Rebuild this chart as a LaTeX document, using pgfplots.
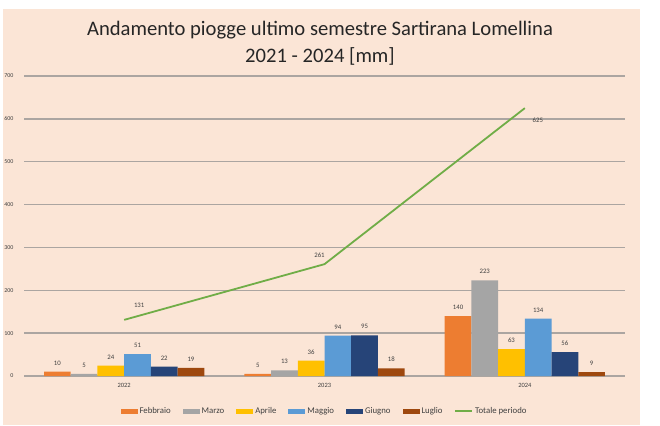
\documentclass[border=0pt]{standalone}
\usepackage{fontspec}
\setmainfont{Carlito}
\usepackage{pgfplots}
\pgfplotsset{compat=1.18}
\usepackage{pgfplotstable}
\definecolor{peach}{HTML}{FBE5D6}
\definecolor{cfeb}{HTML}{ED7D31}
\definecolor{cmar}{HTML}{A5A5A5}
\definecolor{capr}{HTML}{FFC000}
\definecolor{cmag}{HTML}{5B9BD5}
\definecolor{cgiu}{HTML}{264478}
\definecolor{clug}{HTML}{9E480E}
\definecolor{ctot}{HTML}{70AD47}
\definecolor{gridc}{HTML}{ABA5A1}
\definecolor{labc}{HTML}{404040}
\definecolor{titlec}{HTML}{262626}

\pgfplotstableread{
x feb mar apr mag giu lug tot
0 10 5 24 51 22 19 131
1 5 13 36 94 95 18 261
2 140 223 63 134 56 9 625
}\data

\pgfplotsset{
  mybar/.style={ybar, bar width=0.13333, bar shift=0, draw=none, fill=#1,
    nodes near coords,
    every node near coord/.append style={font=\fontsize{6.8}{7}\selectfont, text=labc, yshift=3bp},
    legend image code/.code={\fill[#1] (0bp,-2.5bp) rectangle (17bp,2.5bp);}},
  linelab/.style 2 args={draw=none, mark=none, forget plot, nodes near coords,
    every node near coord/.append style={anchor=center, font=\fontsize{6.8}{7}\selectfont, text=labc, xshift=#1, yshift=#2}},
}

\begin{document}
\begin{tikzpicture}[x=1bp,y=1bp]
\useasboundingbox (0,0) rectangle (660,425);
\fill[white] (0,0) rectangle (660,425);
\fill[peach] (3,0) rectangle (640,416);
\node[font=\fontsize{20.7}{24}\selectfont, text=titlec] at (320,395) {Andamento piogge ultimo semestre Sartirana Lomellina};
\node[font=\fontsize{20.7}{24}\selectfont, text=titlec] at (320,369) {2021 - 2024 [mm]};
\begin{axis}[
  at={(24bp,49bp)}, anchor=south west,
  scale only axis, width=601bp, height=300bp,
  xmin=-0.5, xmax=2.5, ymin=0, ymax=700,
  ytick={0,100,...,700},
  xtick={0,1,2}, xticklabels={2022,2023,2024},
  axis line style={draw=none},
  tick style={draw=none},
  ymajorgrids,
  grid style={gridc, line width=1.4bp},
  /pgf/number format/assume math mode=true,
  yticklabel style={font=\fontsize{6}{7}\selectfont, text=labc, xshift=-7bp},
  xticklabel style={font=\fontsize{6.5}{7}\selectfont, text=labc, yshift=-4bp},
  legend style={at={(0.5,-0.1167)}, anchor=center, legend columns=-1,
    draw=none, fill=none, font=\fontsize{8.8}{10}\selectfont, text=labc,
    nodes={text height=1.5ex, text depth=0.3ex},
    /tikz/every even column/.append style={column sep=10bp}},
]
\addplot[mybar=cfeb] table[x expr=\thisrow{x}-0.33333,y=feb] {\data};
\addlegendentry{Febbraio}
\addplot[mybar=cmar] table[x expr=\thisrow{x}-0.2,y=mar] {\data};
\addlegendentry{Marzo}
\addplot[mybar=capr] table[x expr=\thisrow{x}-0.066667,y=apr] {\data};
\addlegendentry{Aprile}
\addplot[mybar=cmag] table[x expr=\thisrow{x}+0.066667,y=mag] {\data};
\addlegendentry{Maggio}
\addplot[mybar=cgiu] table[x expr=\thisrow{x}+0.2,y=giu] {\data};
\addlegendentry{Giugno}
\addplot[mybar=clug] table[x expr=\thisrow{x}+0.33333,y=lug] {\data};
\addlegendentry{Luglio}
\addplot[sharp plot, ctot, line width=1.8bp, mark=none,
  legend image code/.code={\draw[ctot, line width=1.5bp] (0bp,0bp) -- (17bp,0bp);}
] table[x=x,y=tot] {\data};
\addlegendentry{Totale periodo}
\addplot[linelab={15bp}{15bp}] coordinates {(0,131)};
\addplot[linelab={-5bp}{9bp}] coordinates {(1,261)};
\addplot[linelab={13bp}{-12bp}] coordinates {(2,625)};
\end{axis}
\end{tikzpicture}
\end{document}
